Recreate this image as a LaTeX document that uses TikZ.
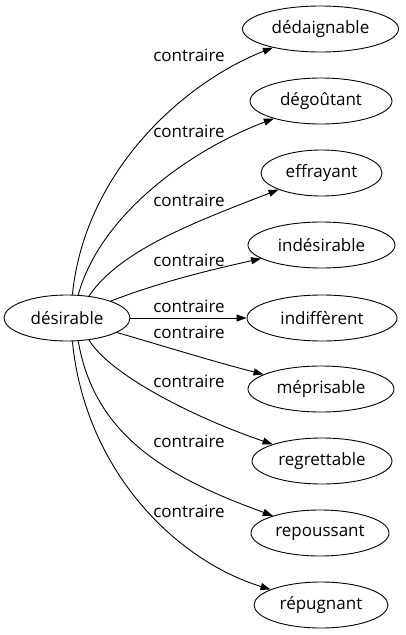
\documentclass[tikz,border=0pt]{standalone}
\usepackage{fontspec}
\setmainfont{Open Sans}
\usetikzlibrary{shapes.geometric,arrows.meta}
\begin{document}
\begin{tikzpicture}[x=1pt,y=-1pt,
  word/.style={ellipse, draw, line width=0.9pt, inner sep=0pt, minimum height=46pt, font=\fontsize{17}{20}\selectfont},
  rel/.style={font=\fontsize{17}{20}\selectfont, anchor=base, inner sep=0pt},
  link/.style={line width=0.9pt, -{Triangle[length=10pt,width=7pt]}}]
\useasboundingbox (0,0) rectangle (405,635);
\node[word, minimum width=126pt] (s) at (67,318) {désirable};
\node[word, minimum width=156pt] (t1) at (320.5,29) {dédaignable};
\node[word, minimum width=142pt] (t2) at (321,101) {dégoûtant};
\node[word, minimum width=121pt] (t3) at (321.5,173) {effrayant};
\node[word, minimum width=147pt] (t4) at (321.5,245) {indésirable};
\node[word, minimum width=150pt] (t5) at (322,318) {indiffèrent};
\node[word, minimum width=146pt] (t6) at (321,389) {méprisable};
\node[word, minimum width=140pt] (t7) at (322,461) {regrettable};
\node[word, minimum width=138pt] (t8) at (320,533) {repoussant};
\node[word, minimum width=134pt] (t9) at (321,605) {répugnant};

\draw[link] (s.77.7) .. controls (85,170) and (185,82) .. (t1);
\draw[link] (s.64.1) .. controls (100,215) and (190,150) .. (t2);
\draw[link] (s.45.9) .. controls (120,250) and (195,222) .. (t3);
\draw[link] (s) .. controls (160,282) and (210,270) .. (t4);
\draw[link] (s) -- (t5);
\draw[link] (s) .. controls (160,345) and (215,362) .. (t6);
\draw[link] (s.-45.9) .. controls (110,375) and (195,418) .. (t7);
\draw[link] (s.-64.1) .. controls (95,440) and (175,480) .. (t8);
\draw[link] (s.-77.7) .. controls (85,470) and (175,560) .. (t9);

\node[rel] (l1) at (189,61) {contraire};
\node[rel] (l2) at (189,137) {contraire};
\node[rel] (l3) at (189,206) {contraire};
\node[rel] (l4) at (189,266) {contraire};
\node[rel] (l5) at (189,312) {contraire};
\node[rel] (l6) at (189,338) {contraire};
\node[rel] (l7) at (189,387) {contraire};
\node[rel] (l8) at (189,447) {contraire};
\node[rel] (l9) at (189,517) {contraire};
\end{tikzpicture}
\end{document}
